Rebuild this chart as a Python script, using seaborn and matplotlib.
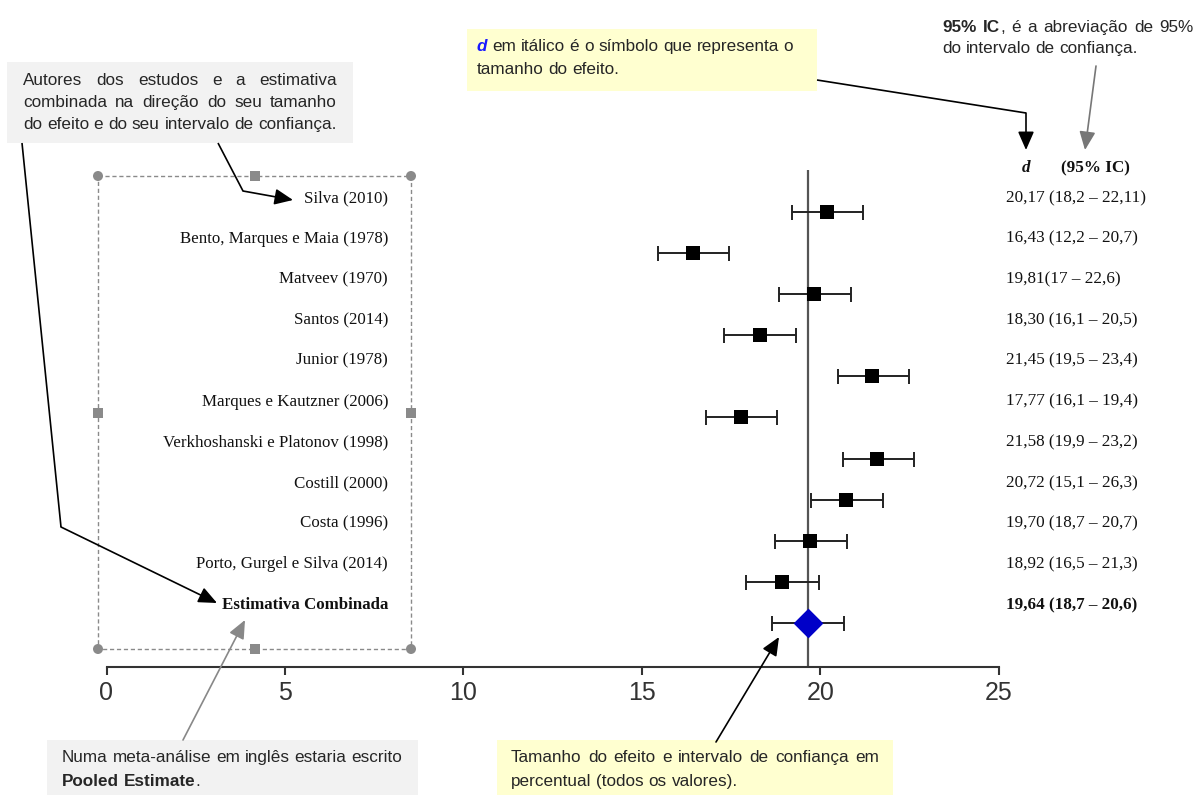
import numpy as np
import pandas as pd
import matplotlib
matplotlib.use("Agg")
import matplotlib.pyplot as plt
import seaborn as sns
from matplotlib.patches import Rectangle, Circle
from matplotlib.lines import Line2D

# ---------------- data ----------------
studies = ["Silva (2010)", "Bento, Marques e Maia (1978)", "Matveev (1970)",
           "Santos (2014)", "Junior (1978)", "Marques e Kautzner (2006)",
           "Verkhoshanski e Platonov (1998)", "Costill (2000)", "Costa (1996)",
           "Porto, Gurgel e Silva (2014)"]
pooled_label = "Estimativa Combinada"
d_values = [20.17, 16.43, 19.81, 18.30, 21.45, 17.77, 21.58, 20.72, 19.70, 18.92]
bar_low = [19.19, 15.44, 18.83, 17.31, 20.48, 16.78, 20.62, 19.74, 18.73, 17.92]
bar_high = [21.20, 17.45, 20.85, 19.31, 22.48, 18.78, 22.63, 21.75, 20.73, 19.97]
pooled_d = 19.64
pooled_low = 18.65
pooled_high = 20.66
ci_text = ["20,17 (18,2 – 22,11)", "16,43 (12,2 – 20,7)", "19,81(17 – 22,6)",
           "18,30 (16,1 – 20,5)", "21,45 (19,5 – 23,4)", "17,77 (16,1 – 19,4)",
           "21,58 (19,9 – 23,2)", "20,72 (15,1 – 26,3)", "19,70 (18,7 – 20,7)",
           "18,92 (16,5 – 21,3)"]
pooled_ci_text = "19,64 (18,7 – 20,6)"
x_ticks = [0, 5, 10, 15, 20, 25]

# ---------------- style ----------------
sns.set_style("white")
plt.rcParams["font.family"] = ["Liberation Sans", "DejaVu Sans"]

W, H = 1196, 795
fig = plt.figure(figsize=(W / 100, H / 100), dpi=100)

# overlay in pixel coordinates for annotations
over = fig.add_axes([0, 0, 1, 1])
over.set_xlim(0, W)
over.set_ylim(H, 0)
over.axis("off")
over.set_zorder(3)
over.patch.set_alpha(0)

# data axes
x0p, x1p, ytop, ybot = 106.5, 999.0, 170.0, 667.0
ax = fig.add_axes([x0p / W, 1 - ybot / H, (x1p - x0p) / W, (ybot - ytop) / H])
ax.patch.set_alpha(0)
ax.set_zorder(2)

rows = np.arange(len(studies))
df = pd.DataFrame({"study": studies, "d": d_values, "row": rows,
                   "lo": bar_low, "hi": bar_high})
pdf = pd.DataFrame({"study": [pooled_label], "d": [pooled_d], "row": [len(studies)],
                    "lo": [pooled_low], "hi": [pooled_high]})

ax.axvline(pooled_d, color="#555555", lw=1.6, zorder=1)
ax.errorbar(df["d"], df["row"], xerr=[df["d"] - df["lo"], df["hi"] - df["d"]],
            fmt="none", ecolor="#222222", elinewidth=1.4, capsize=5.4, capthick=1.4, zorder=2)
ax.errorbar(pdf["d"], pdf["row"], xerr=[pdf["d"] - pdf["lo"], pdf["hi"] - pdf["d"]],
            fmt="none", ecolor="#222222", elinewidth=1.4, capsize=5.4, capthick=1.4, zorder=2)
sns.scatterplot(data=df, x="d", y="row", marker="s", s=115, color="black",
                edgecolor="black", linewidth=0, ax=ax, zorder=4, legend=False)
sns.scatterplot(data=pdf, x="d", y="row", marker="D", s=230, color="#0000C8",
                edgecolor="#0000C8", linewidth=0, ax=ax, zorder=4, legend=False)

ax.set_xlim(0, 25)
ax.set_ylim(11.07, -1.02)
ax.set_xticks(x_ticks)
ax.set_xticklabels([str(t) for t in x_ticks])
ax.set_yticks([])
ax.set_xlabel("")
ax.set_ylabel("")
for s in ["left", "top", "right"]:
    ax.spines[s].set_visible(False)
ax.spines["bottom"].set_color("#333333")
ax.spines["bottom"].set_linewidth(1.5)
ax.tick_params(axis="x", direction="out", length=6, width=1.5, color="#333333",
               labelsize=18, labelcolor="#333333", pad=4, bottom=True)

# ---------------- labels ----------------
serif = "Liberation Serif"
lab_fs = 12.2
ci_fs = 12.3
lab_y0, lab_dy = 198.0, 40.7
for i, name in enumerate(studies):
    over.text(388, lab_y0 + lab_dy * i, name, ha="right", va="center",
              family=serif, fontsize=lab_fs, color="#111111")
    over.text(1006, lab_y0 + lab_dy * i, ci_text[i], ha="left", va="center",
              family=serif, fontsize=ci_fs, color="#111111")
yp = lab_y0 + lab_dy * len(studies)
over.text(388, yp, pooled_label, ha="right", va="center", family=serif,
          fontsize=lab_fs, fontweight="bold", color="#111111")
over.text(1006, yp, pooled_ci_text, ha="left", va="center", family=serif,
          fontsize=ci_fs, fontweight="bold", color="#111111")
over.text(1026, 168, "d", ha="center", va="center", family=serif, fontsize=ci_fs,
          fontweight="bold", fontstyle="italic", color="#111111")
over.text(1095, 168, "(95% IC)", ha="center", va="center", family=serif, fontsize=ci_fs,
          fontweight="bold", color="#111111")

# ---------------- selection box ----------------
sel_x0, sel_y0, sel_x1, sel_y1 = 98, 176, 411, 649
over.add_patch(Rectangle((sel_x0, sel_y0), sel_x1 - sel_x0, sel_y1 - sel_y0, fill=False,
                         ec="#8a8a8a", lw=1.0, ls=(0, (3, 2))))
for cx in (sel_x0, sel_x1):
    for cy in (sel_y0, sel_y1):
        over.add_patch(Circle((cx, cy), 5, fc="#8a8a8a", ec="none"))
mx, my = (sel_x0 + sel_x1) / 2, (sel_y0 + sel_y1) / 2
for cx, cy in [(mx, sel_y0), (mx, sel_y1), (sel_x0, my), (sel_x1, my)]:
    over.add_patch(Rectangle((cx - 5, cy - 5), 10, 10, fc="#8a8a8a", ec="none"))

# ---------------- annotation boxes ----------------
grey_bg = "#F2F2F2"
yel_bg = "#FFFFD0"
over.add_patch(Rectangle((7, 62), 346, 81, fc=grey_bg, ec="none"))
over.add_patch(Rectangle((467, 29), 350, 62, fc=yel_bg, ec="none"))
over.add_patch(Rectangle((47, 740), 371, 60, fc=grey_bg, ec="none"))
over.add_patch(Rectangle((497, 740), 396, 60, fc=yel_bg, ec="none"))

fig.canvas.draw()
renderer = fig.canvas.get_renderer()
sans_kw = dict(family="Liberation Sans", fontsize=12.3, color="#262626")
BASE_OFF = 5.0   # baseline offset from the visual line centre, pixels


def width_of(s, kw):
    t = over.text(0, 0, s, **kw)
    w = t.get_window_extent(renderer).width
    t.remove()
    return w


SPACE = width_of("a a", sans_kw) - width_of("aa", sans_kw)


def put_line(x0, y, items, x1=None):
    """items: list of (word, extra_kw, attach_to_previous)"""
    kws = [dict(sans_kw, **e) for _, e, _ in items]
    widths = [width_of(w, k) for (w, _, _), k in zip(items, kws)]
    ngaps = sum(1 for (_, _, a) in items[1:] if not a)
    gap = SPACE
    if x1 is not None and ngaps > 0:
        gap = (x1 - x0 - sum(widths)) / ngaps
    x = x0
    for idx, ((w, _, a), k, wd) in enumerate(zip(items, kws, widths)):
        if idx > 0 and not a:
            x += gap
        over.text(x, y + BASE_OFF, w, ha="left", va="baseline", **k)
        x += wd


def words(s, extra=None):
    return [(w, extra or {}, False) for w in s.split()]


# top-left grey box
put_line(23, 80, words("Autores dos estudos e a estimativa"), x1=337)
put_line(23, 102, words("combinada na direção do seu tamanho"), x1=337)
put_line(23, 124, words("do efeito e do seu intervalo de confiança."))

# top yellow box
put_line(477, 46, [("d", {"fontweight": "bold", "fontstyle": "italic", "color": "#1a1aff"}, False)]
         + words("em itálico é o símbolo que representa o"))
put_line(477, 69, words("tamanho do efeito."))

# top-right text
put_line(942, 27, [("95%", {"fontweight": "bold"}, False), ("IC", {"fontweight": "bold"}, False),
                   (",", {}, True)] + words("é a abreviação de 95%"), x1=1194)
put_line(942, 48, words("do intervalo de confiança."))

# bottom grey box
put_line(62, 757, words("Numa meta-análise em inglês estaria escrito"))
put_line(62, 781, words("Pooled Estimate", {"fontweight": "bold"}) + [(".", {}, True)])

# bottom yellow box
put_line(511, 757, words("Tamanho do efeito e intervalo de confiança em"), x1=879)
put_line(511, 781, words("percentual (todos os valores)."))


# ---------------- arrows ----------------
def arrow_path(pts, color="black", lw=1.2):
    xs = [p[0] for p in pts[:-1]]
    ys = [p[1] for p in pts[:-1]]
    if len(pts) > 2:
        over.add_line(Line2D(xs, ys, color=color, lw=lw, solid_capstyle="butt"))
    over.annotate("", xy=pts[-1], xytext=pts[-2],
                  arrowprops=dict(arrowstyle="-|>,head_length=0.8,head_width=0.35",
                                  color=color, lw=lw, shrinkA=0, shrinkB=0,
                                  mutation_scale=14))


arrow_path([(218, 143), (243, 191), (293, 200)])
arrow_path([(22, 143), (61, 527), (217, 603)])
arrow_path([(817, 80), (1026, 113), (1026, 150)])
arrow_path([(1096, 66), (1085, 150)], color="#777777")
arrow_path([(183, 740), (245, 620)], color="#888888")
arrow_path([(716, 742), (779, 637)])

fig.savefig("out.png", dpi=100)
